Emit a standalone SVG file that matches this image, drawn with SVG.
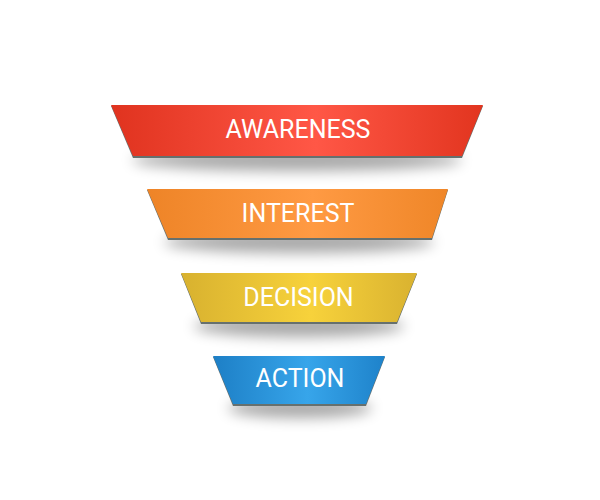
<svg xmlns="http://www.w3.org/2000/svg" width="600" height="500" viewBox="0 0 600 500">
  <defs>
    <filter id="blur" x="-20%" y="-150%" width="140%" height="400%">
      <feGaussianBlur stdDeviation="7"/>
    </filter>
    <linearGradient id="gRed" x1="0" y1="0" x2="1" y2="0">
      <stop offset="0" stop-color="#e0331f"/>
      <stop offset="0.55" stop-color="#ff5746"/>
      <stop offset="1" stop-color="#e2351f"/>
    </linearGradient>
    <linearGradient id="gOrange" x1="0" y1="0" x2="1" y2="0">
      <stop offset="0" stop-color="#ee8427"/>
      <stop offset="0.55" stop-color="#ff9a43"/>
      <stop offset="1" stop-color="#ef8628"/>
    </linearGradient>
    <linearGradient id="gYellow" x1="0" y1="0" x2="1" y2="0">
      <stop offset="0" stop-color="#d8b12f"/>
      <stop offset="0.55" stop-color="#f7d23b"/>
      <stop offset="1" stop-color="#d9b230"/>
    </linearGradient>
    <linearGradient id="gBlue" x1="0" y1="0" x2="1" y2="0">
      <stop offset="0" stop-color="#1d7fc6"/>
      <stop offset="0.55" stop-color="#37a5ea"/>
      <stop offset="1" stop-color="#1e82ca"/>
    </linearGradient>
  </defs>
  <style>
    .shadow { fill: #000; opacity: 0.34; filter: url(#blur); }
    .edge { fill: #66706e; }
    .label { font-family: Roboto, "Liberation Sans", sans-serif; font-size: 25px; fill: #ffffff; text-anchor: middle; }
  </style>
  <rect width="600" height="500" fill="#ffffff"/>

  <g id="awareness">
    <ellipse class="shadow" cx="297" cy="160" rx="165" ry="11"/>
    <polygon class="edge" points="111,106 483,106 462,158 133,158"/>
    <polygon points="111,105 483,105 462,156 133,156" fill="url(#gRed)"/>
    <text class="label" x="298" y="138">AWARENESS</text>
  </g>

  <g id="interest">
    <ellipse class="shadow" cx="299" cy="242" rx="135" ry="11"/>
    <polygon class="edge" points="147,190 448,190 432,240 168,240"/>
    <polygon points="147,189 448,189 432,238 168,238" fill="url(#gOrange)"/>
    <text class="label" x="298" y="222">INTEREST</text>
  </g>

  <g id="decision">
    <ellipse class="shadow" cx="299" cy="326" rx="105" ry="11"/>
    <polygon class="edge" points="181,274 417,274 397,324 201,324"/>
    <polygon points="181,273 417,273 397,322 201,322" fill="url(#gYellow)"/>
    <text class="label" x="298.5" y="306">DECISION</text>
  </g>

  <g id="action">
    <ellipse class="shadow" cx="300" cy="408" rx="72" ry="10"/>
    <polygon class="edge" points="213,357 385,357 366,406 233,406"/>
    <polygon points="213,356 385,356 366,404 233,404" fill="url(#gBlue)"/>
    <text class="label" x="300" y="387">ACTION</text>
  </g>
</svg>
